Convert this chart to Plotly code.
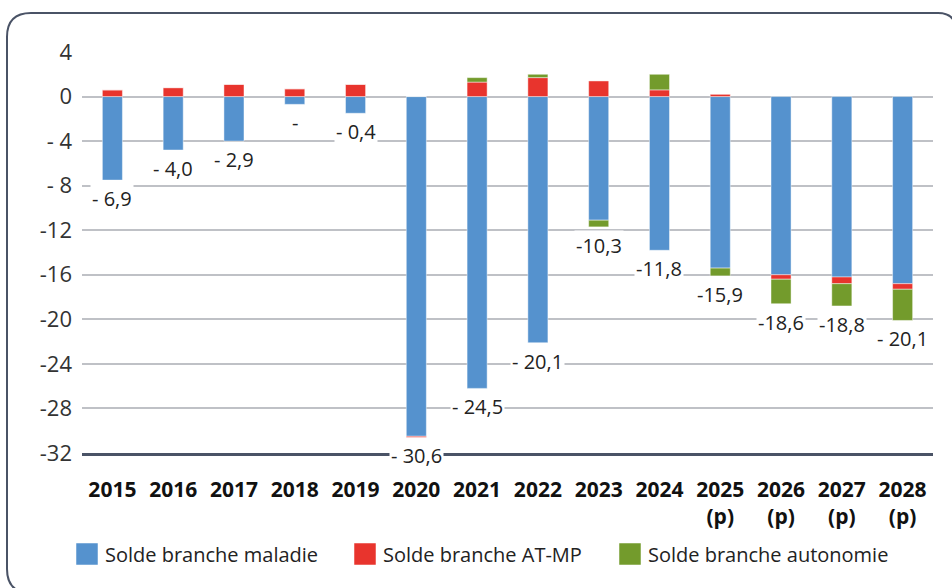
import plotly.graph_objects as go

# Soldes des branches (Md€)
annees = ["2015", "2016", "2017", "2018", "2019", "2020", "2021", "2022", "2023",
          "2024", "2025<br>(p)", "2026<br>(p)", "2027<br>(p)", "2028<br>(p)"]
maladie = [-7.5, -4.8, -4.0, -0.7, -1.5, -30.5, -26.2, -22.1, -11.1, -13.8, -15.4, -16.0, -16.2, -16.8]
at_mp = [0.6, 0.8, 1.1, 0.7, 1.1, -0.1, 1.3, 1.7, 1.4, 0.6, 0.2, -0.4, -0.6, -0.5]
autonomie = [0, 0, 0, 0, 0, 0, 0.4, 0.3, -0.6, 1.4, -0.7, -2.2, -2.0, -2.8]
etiquettes = ["- 6,9", "- 4,0", "- 2,9", "-", "- 0,4", "- 30,6", "- 24,5", "- 20,1",
              "-10,3", "-11,8", "-15,9", "-18,6", "-18,8", "- 20,1"]

y_ticks = [4, 0, -4, -8, -12, -16, -20, -24, -28, -32]
y_ticktext = ["4", "0", "- 4", "- 8", "-12", "-16", "-20", "-24", "-28", "-32"]

BLEU = "#5592ce"
ROUGE = "#e8342d"
VERT = "#739b2c"
FONT = "Open Sans"

W, H = 952, 588
ML, MR, MT, MB = 82, 19, 52, 135
PW, PH = W - ML - MR, H - MT - MB


def px(x):
    return (x - ML) / PW


def py(y):
    return (H - MB - y) / PH


fig = go.Figure()
for nom, vals, col in [("Solde branche maladie", maladie, BLEU),
                       ("Solde branche AT-MP", at_mp, ROUGE),
                       ("Solde branche autonomie", autonomie, VERT)]:
    fig.add_trace(go.Bar(
        x=annees, y=vals, name=nom, width=0.33,
        marker=dict(color=col, line=dict(color="rgba(255,255,255,0.45)", width=1)),
        showlegend=False, hoverinfo="skip",
    ))

# Étiquettes de solde total sous chaque barre (x = rang de la catégorie)
for i, a in enumerate(annees):
    bas = sum(v for v in (maladie[i], at_mp[i], autonomie[i]) if v < 0)
    fig.add_annotation(
        x=i, y=bas, text=etiquettes[i], showarrow=False,
        yanchor="top", yshift=-3, bgcolor="white", borderpad=1,
        font=dict(family=FONT, size=20, color="#222222"),
    )

# Légende
legende = [(76, "Solde branche maladie", BLEU),
           (354, "Solde branche AT-MP", ROUGE),
           (619, "Solde branche autonomie", VERT)]
for x0, txt, col in legende:
    fig.add_shape(type="rect", xref="paper", yref="paper",
                  x0=px(x0), x1=px(x0 + 22), y0=py(565), y1=py(543),
                  fillcolor=col, line=dict(color="rgba(255,255,255,0.5)", width=1))
    fig.add_annotation(xref="paper", yref="paper", x=px(x0 + 27), y=py(554),
                       text=txt, showarrow=False, xanchor="left", yanchor="middle",
                       font=dict(family=FONT, size=20, color="#222222"))

# Cadre arrondi
L, T, R, B, r = 7, 13, 956, 593, 24
path = (f"M {px(R)},{py(T + 18)} Q {px(R)},{py(T)} {px(R - 18)},{py(T)} "
        f"L {px(L + r)},{py(T)} Q {px(L)},{py(T)} {px(L)},{py(T + r)} "
        f"L {px(L)},{py(B - r)} Q {px(L)},{py(B)} {px(L + r)},{py(B)}")
fig.add_shape(type="path", xref="paper", yref="paper", path=path,
              line=dict(color="#4a5366", width=2))

fig.update_layout(
    width=W, height=H, barmode="relative",
    margin=dict(l=ML, r=MR, t=MT, b=MB),
    paper_bgcolor="white", plot_bgcolor="white",
    font=dict(family=FONT, color="#222222"),
    xaxis=dict(type="category", range=[-0.5, len(annees) - 0.5], autorange=False,
               showgrid=False, ticks="", showline=True,
               linecolor="#4a5366", linewidth=2.5,
               tickfont=dict(family=FONT, size=21, color="#111111", weight="bold"),
               ticklabelstandoff=16),
    yaxis=dict(range=[-32, 4], autorange=False, tickvals=y_ticks, ticktext=y_ticktext,
               showgrid=True, gridcolor="#bfc1c6", gridwidth=1.5, zeroline=False,
               tickfont=dict(family=FONT, size=22, color="#333333"),
               ticks="", ticklabelstandoff=9),
)

fig.write_html("out.html")
